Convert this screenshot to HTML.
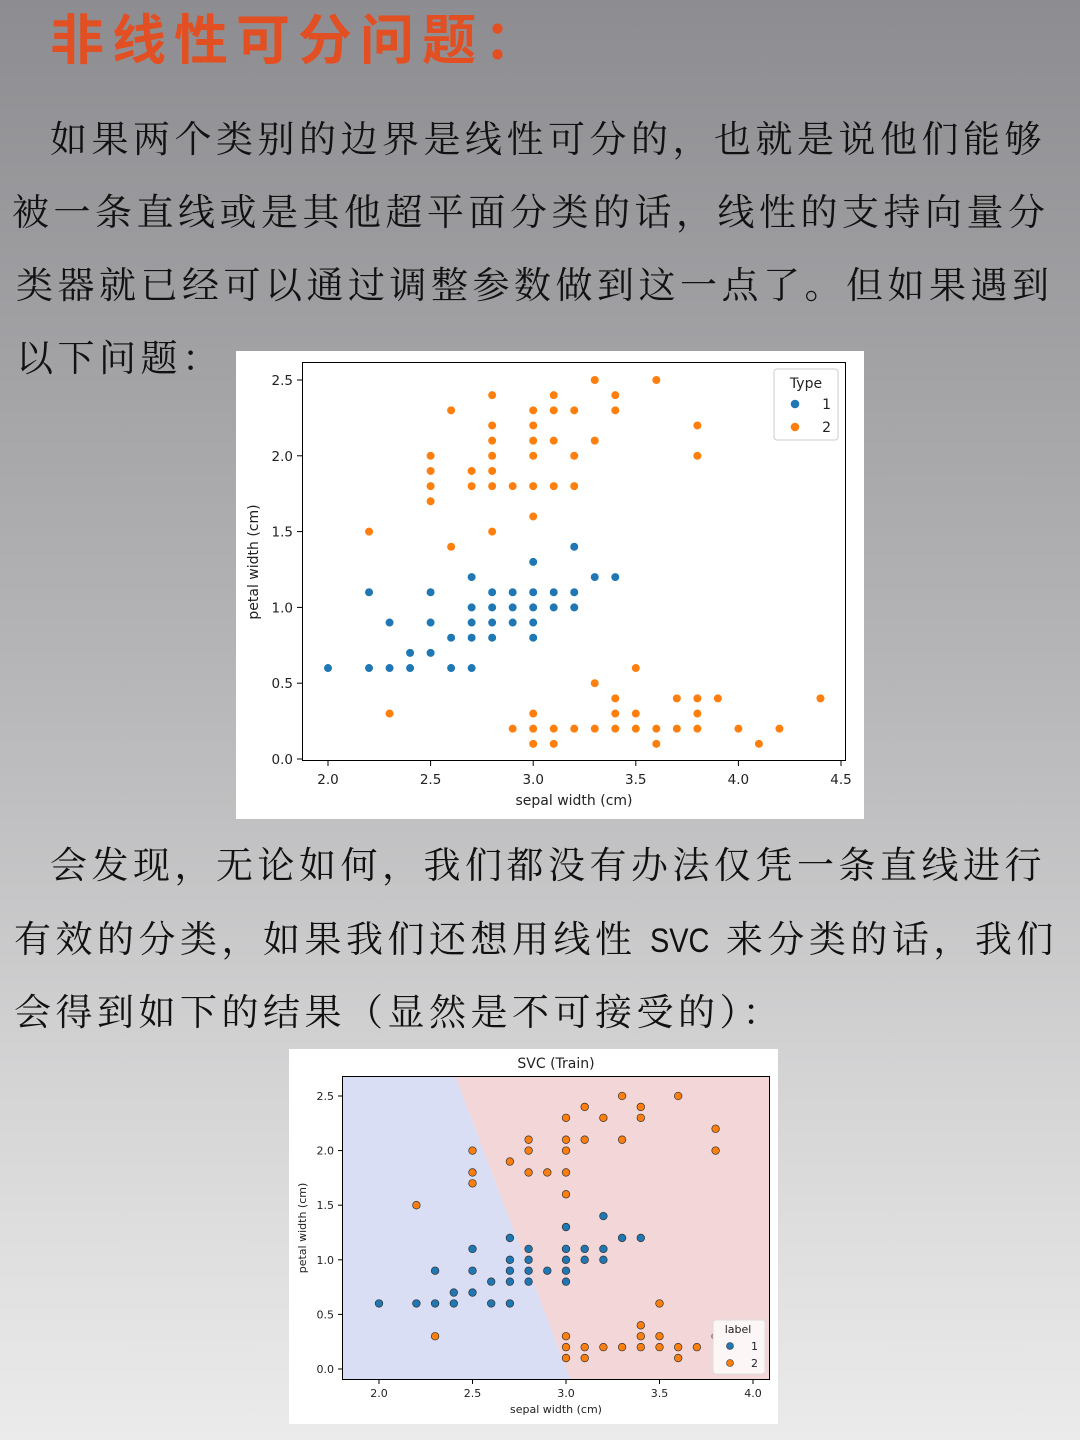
<!DOCTYPE html>
<html><head><meta charset="utf-8">
<style>
html,body{margin:0;padding:0}
body{width:1080px;height:1440px;position:relative;overflow:hidden;
background:linear-gradient(180deg,#8d8d91 0%,#a2a2a5 25%,#b9b9bb 50%,#d4d4d5 75%,#ebebeb 100%);
font-family:"Liberation Serif","Noto Serif CJK SC",serif;}
.t{position:absolute;white-space:nowrap;color:#111;font-size:37px;letter-spacing:4.5px;line-height:1}
.svc{font-family:"Liberation Sans","DejaVu Sans",sans-serif;letter-spacing:0;font-size:34px;display:inline-block;transform:scaleX(0.85);transform-origin:left;margin-right:-8px}
#title{position:absolute;left:50px;top:-4px;font-size:54px;letter-spacing:8px;color:#e24f22;font-family:"Liberation Sans","Noto Sans CJK SC",sans-serif;font-weight:bold;white-space:nowrap}
svg{position:absolute;left:0;top:0}
svg text{font-family:"DejaVu Sans","Liberation Sans",sans-serif;fill:#222}
</style></head><body>
<div id="title">非线性可分问题：</div>
<div class="t" style="left:50px;top:122px">如果两个类别的边界是线性可分的，也就是说他们能够</div>
<div class="t" style="left:12px;top:195px">被一条直线或是其他超平面分类的话，线性的支持向量分</div>
<div class="t" style="left:16px;top:268px">类器就已经可以通过调整参数做到这一点了。但如果遇到</div>
<div class="t" style="left:16px;top:341px">以下问题：</div>
<div class="t" style="left:50px;top:848px">会发现，无论如何，我们都没有办法仅凭一条直线进行</div>
<div class="t" style="left:14px;top:922px">有效的分类，如果我们还想用线性 <span class="svc">SVC</span> 来分类的话，我们</div>
<div class="t" style="left:14px;top:995px">会得到如下的结果（显然是不可接受的）：</div>
<svg id="s" width="1080" height="1440"></svg>
<script>
// Chart 1 data
const c1BlueX=[2.0,2.2,2.2,2.3,2.3,2.4,2.4,2.5,2.5,2.5,2.6,2.6,2.7,2.7,2.7,2.7,2.7,2.8,2.8,2.8,2.8,2.9,2.9,2.9,3.0,3.0,3.0,3.0,3.0,3.1,3.1,3.2,3.2,3.2,3.3,3.4];
const c1BlueY=[0.6,0.6,1.1,0.6,0.9,0.7,0.6,0.7,0.9,1.1,0.8,0.6,0.6,0.8,0.9,1.0,1.2,0.8,0.9,1.0,1.1,0.9,1.0,1.1,0.8,0.9,1.0,1.1,1.3,1.0,1.1,1.0,1.1,1.4,1.2,1.2];
const c1OrgX=[2.2,2.3,2.5,2.5,2.5,2.5,2.6,2.6,2.7,2.7,2.8,2.8,2.8,2.8,2.8,2.8,2.8,2.9,2.9,3.0,3.0,3.0,3.0,3.0,3.0,3.0,3.0,3.0,3.1,3.1,3.1,3.1,3.1,3.1,3.2,3.2,3.2,3.2,3.3,3.3,3.3,3.3,3.4,3.4,3.4,3.4,3.4,3.5,3.5,3.5,3.6,3.6,3.6,3.7,3.7,3.8,3.8,3.8,3.8,3.8,3.9,4.0,4.1,4.2,4.4];
const c1OrgY=[1.5,0.3,1.7,1.8,1.9,2.0,1.4,2.3,1.8,1.9,1.5,1.8,1.9,2.0,2.1,2.2,2.4,1.8,0.2,1.6,1.8,2.0,2.1,2.2,2.3,0.1,0.2,0.3,1.8,2.1,2.3,2.4,0.1,0.2,1.8,2.0,2.3,0.2,2.1,2.5,0.2,0.5,2.3,2.4,0.2,0.3,0.4,0.2,0.3,0.6,2.5,0.2,0.1,0.2,0.4,2.0,2.2,0.2,0.3,0.4,0.4,0.2,0.1,0.2,0.4];
const c1XTicks=["2.0","2.5","3.0","3.5","4.0","4.5"];
const c1YTicks=["0.0","0.5","1.0","1.5","2.0","2.5"];
// Chart 2 data
const c2BlueX=[2.0,2.2,2.3,2.3,2.4,2.4,2.5,2.5,2.5,2.6,2.6,2.7,2.7,2.7,2.7,2.7,2.8,2.8,2.8,2.8,2.9,3.0,3.0,3.0,3.0,3.0,3.1,3.1,3.2,3.2,3.2,3.3,3.4];
const c2BlueY=[0.6,0.6,0.6,0.9,0.6,0.7,0.7,0.9,1.1,0.6,0.8,0.6,0.8,0.9,1.0,1.2,0.8,0.9,1.0,1.1,0.9,0.8,0.9,1.0,1.1,1.3,1.0,1.1,1.0,1.1,1.4,1.2,1.2];
const c2OrgX=[2.2,2.3,2.5,2.5,2.5,2.7,2.8,2.8,2.8,2.9,3.0,3.0,3.0,3.0,3.0,3.0,3.0,3.0,3.1,3.1,3.1,3.1,3.2,3.2,3.3,3.3,3.3,3.4,3.4,3.4,3.4,3.4,3.5,3.5,3.5,3.6,3.6,3.6,3.7,3.8,3.8,3.8];
const c2OrgY=[1.5,0.3,1.7,1.8,2.0,1.9,2.0,2.1,1.8,1.8,2.3,2.1,2.0,1.8,1.6,0.3,0.2,0.1,2.4,2.1,0.2,0.1,2.3,0.2,2.5,2.1,0.2,2.4,2.3,0.4,0.3,0.2,0.6,0.3,0.2,2.5,0.2,0.1,0.2,2.2,2.0,0.3];
const c2XTicks=["2.0","2.5","3.0","3.5","4.0"];
const c2YTicks=["0.0","0.5","1.0","1.5","2.0","2.5"];
const boundaryX=[2.4155,3.018];
const boundaryY=[2.647,-0.07];

const S=document.getElementById('s');const NS='http://www.w3.org/2000/svg';
function mk(t,a,txt){const e=document.createElementNS(NS,t);for(const k in a)e.setAttribute(k,a[k]);if(txt!==undefined)e.textContent=txt;S.appendChild(e);return e;}

// ---- Chart 1
const bg1=mk('rect',{x:236,y:351,width:628,height:468,fill:'#fff'});


const x1=v=>328+(v-2)*205.2, y1=v=>759-v*151.6;
const f1=mk('rect',{x:302.5,y:362.5,width:543,height:398,fill:'none',stroke:'#000','stroke-width':1});


c1XTicks.forEach(t=>{const v=parseFloat(t);mk('line',{x1:x1(v),x2:x1(v),y1:761,y2:766,stroke:'#000'});
const e=mk('text',{x:x1(v),y:784,'font-size':13.5,'text-anchor':'middle'},t);

});
c1YTicks.forEach(t=>{const v=parseFloat(t);mk('line',{x1:297,x2:302,y1:y1(v),y2:y1(v),stroke:'#000'});
const e=mk('text',{x:293,y:y1(v)+5,'font-size':13.5,'text-anchor':'end'},t);

});
let e=mk('text',{x:574,y:805,'font-size':14,'text-anchor':'middle'},'sepal width (cm)');


e=mk('text',{x:258,y:562,'font-size':14,'text-anchor':'middle',transform:'rotate(-90 258 562)'},'petal width (cm)');


c1BlueX.forEach((v,i)=>{const p=mk('circle',{cx:x1(v),cy:y1(c1BlueY[i]),r:4.3,fill:'#1f77b4',stroke:'#fff','stroke-width':0.6});

});
c1OrgX.forEach((v,i)=>{const p=mk('circle',{cx:x1(v),cy:y1(c1OrgY[i]),r:4.3,fill:'#ff7f0e',stroke:'#fff','stroke-width':0.6});

});
e=mk('rect',{x:774,y:369,width:64,height:71,rx:3,fill:'#fff',stroke:'#ccc'});


mk('text',{x:806,y:388,'font-size':14,'text-anchor':'middle'},'Type');
mk('circle',{cx:795,cy:404,r:4.3,fill:'#1f77b4'});mk('text',{x:831,y:409,'font-size':14,'text-anchor':'end'},'1');
mk('circle',{cx:795,cy:427,r:4.3,fill:'#ff7f0e'});mk('text',{x:831,y:432,'font-size':14,'text-anchor':'end'},'2');

// ---- Chart 2
e=mk('rect',{x:289,y:1049,width:489,height:375,fill:'#fff'});


const x2=v=>379+(v-2)*187, y2=v=>1369-v*109.2;
const L=342,R=770,T=1076,B=1380;
const bx=yv=>boundaryX[0]+(boundaryX[1]-boundaryX[0])*(yv-boundaryY[0])/(boundaryY[1]-boundaryY[0]);
const yT=(1369-T)/109.2,yB=(1369-B)/109.2;
const pxT=x2(bx(yT)),pxB=x2(bx(yB));
e=mk('polygon',{points:`${L},${T} ${pxT},${T} ${pxB},${B} ${L},${B}`,fill:'#d9def5'});


e=mk('polygon',{points:`${pxT},${T} ${R},${T} ${R},${B} ${pxB},${B}`,fill:'#f3d6d7'});


mk('rect',{x:L+0.5,y:T+0.5,width:R-L-1,height:B-T-1,fill:'none',stroke:'#000','stroke-width':1});
e=mk('text',{x:556,y:1068,'font-size':14,'text-anchor':'middle'},'SVC (Train)');


c2XTicks.forEach(t=>{const v=parseFloat(t);mk('line',{x1:x2(v),x2:x2(v),y1:B,y2:B+4,stroke:'#000'});
const q=mk('text',{x:x2(v),y:1397,'font-size':11,'text-anchor':'middle'},t);

});
c2YTicks.forEach(t=>{const v=parseFloat(t);mk('line',{x1:L-4,x2:L,y1:y2(v),y2:y2(v),stroke:'#000'});
const q=mk('text',{x:334,y:y2(v)+4,'font-size':11,'text-anchor':'end'},t);

});
e=mk('text',{x:556,y:1413,'font-size':11,'text-anchor':'middle'},'sepal width (cm)');


e=mk('text',{x:306,y:1228,'font-size':11,'text-anchor':'middle',transform:'rotate(-90 306 1228)'},'petal width (cm)');


c2BlueX.forEach((v,i)=>{const p=mk('circle',{cx:x2(v),cy:y2(c2BlueY[i]),r:3.8,fill:'#1f77b4',stroke:'#333','stroke-width':0.7});

});
c2OrgX.forEach((v,i)=>{const p=mk('circle',{cx:x2(v),cy:y2(c2OrgY[i]),r:3.8,fill:'#ff7f0e',stroke:'#333','stroke-width':0.7});

});
e=mk('rect',{x:713,y:1320,width:52,height:54,rx:3,fill:'#fdf6f6',stroke:'#ddd'});


mk('text',{x:738,y:1333,'font-size':11,'text-anchor':'middle'},'label');
mk('circle',{cx:730,cy:1346,r:3.5,fill:'#1f77b4',stroke:'#333','stroke-width':0.6});mk('text',{x:758,y:1350,'font-size':11,'text-anchor':'end'},'1');
mk('circle',{cx:730,cy:1363,r:3.5,fill:'#ff7f0e',stroke:'#333','stroke-width':0.6});mk('text',{x:758,y:1367,'font-size':11,'text-anchor':'end'},'2');
</script>
</body></html>
